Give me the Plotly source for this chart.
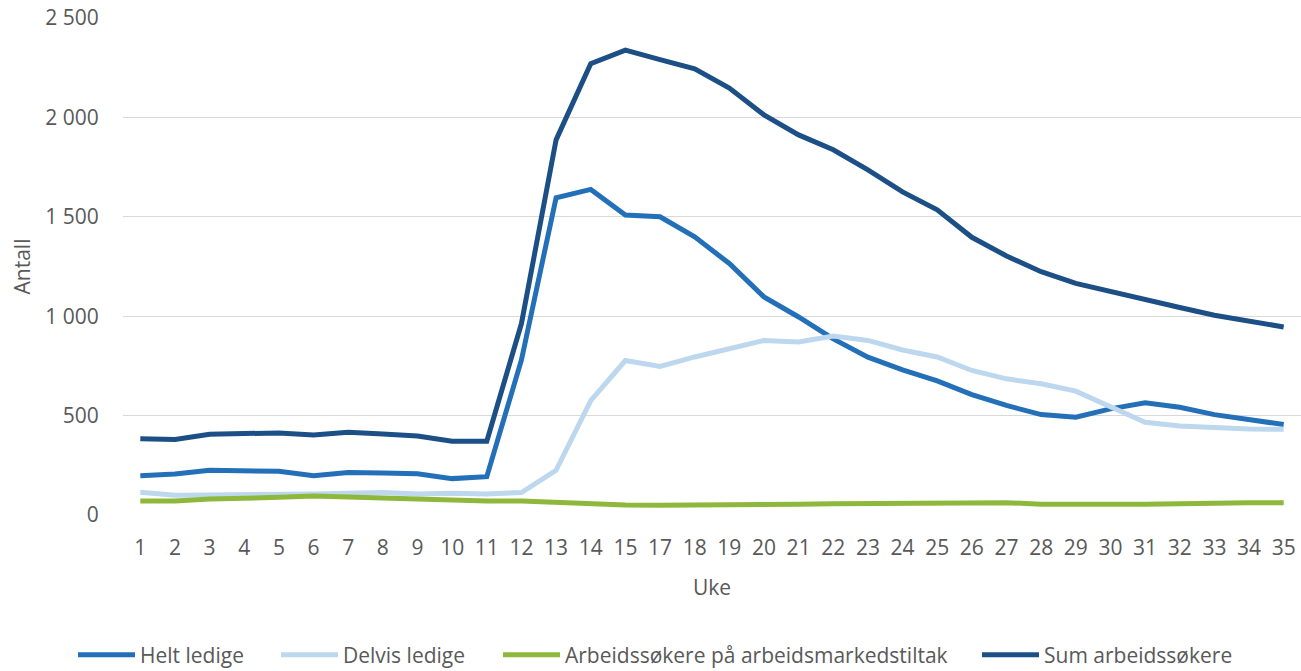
import plotly.graph_objects as go

weeks = [str(w) for w in list(range(1, 16)) + list(range(17, 36))]

helt_ledige = [197, 206, 225, 225, 220, 197, 214, 211, 207, 183, 193, 780,
               1596, 1638, 1509, 1500, 1399, 1265, 1097, 996, 886, 794, 730, 675,
               606, 551, 505, 492, 534, 564, 542, 505, 478, 455]
delvis_ledige = [115, 99, 101, 101, 101, 106, 110, 113, 106, 110, 106, 113,
                 225, 575, 777, 747, 795, 836, 878, 870, 900, 878, 830, 795,
                 727, 685, 660, 623, 545, 466, 448, 438, 433, 431]
tiltak = [70, 71, 80, 82, 89, 96, 91, 82, 82, 77, 70, 70,
          62, 57, 50, 49, 49, 49, 49, 54, 57, 57, 59, 62,
          62, 62, 54, 57, 54, 54, 54, 59, 61, 61]
sum_arbeidssokere = [383, 380, 406, 411, 413, 402, 416, 408, 397, 371, 371, 963,
                     1887, 2270, 2338, 2291, 2244, 2148, 2013, 1912, 1837, 1736, 1625, 1535,
                     1397, 1303, 1224, 1165, 1123, 1081, 1044, 1005, 975, 946]

series = [
    ("Helt ledige", helt_ledige, "#2370B8"),
    ("Delvis ledige", delvis_ledige, "#BDD7EE"),
    ("Arbeidssøkere på arbeidsmarkedstiltak", tiltak, "#8DB83B"),
    ("Sum arbeidssøkere", sum_arbeidssokere, "#1B4F86"),
]

# legend entry box left positions (pixels in the page) and plot geometry
legend_px = [73, 276, 498, 977]
plot_left, plot_w, plot_top, plot_h = 123, 1178, 18, 497
legend_center_y = 655

font_family = "Open Sans"
gray = "#595959"

fig = go.Figure()
layout_legends = {}
for i, (name, vals, color) in enumerate(series):
    key = "legend" if i == 0 else f"legend{i + 1}"
    fig.add_trace(go.Scatter(
        x=weeks, y=vals, name=name, mode="lines",
        line=dict(color=color, width=5),
        legend=key,
    ))
    layout_legends[key] = dict(
        orientation="h",
        x=(legend_px[i] - plot_left) / plot_w, xanchor="left",
        y=(plot_top + plot_h - legend_center_y) / plot_h, yanchor="middle",
        font=dict(family=font_family, size=21, color=gray),
        bgcolor="rgba(0,0,0,0)", borderwidth=0,
        itemwidth=57,
    )

fig.update_layout(
    width=1301, height=671,
    margin=dict(l=plot_left, r=1301 - plot_left - plot_w, t=plot_top,
                b=671 - plot_top - plot_h, autoexpand=False),
    plot_bgcolor="white", paper_bgcolor="white",
    font=dict(family=font_family, color=gray, size=21),
    separators=", ",
    showlegend=True,
    xaxis=dict(
        type="category", range=[-0.5, 33.5], automargin=False,
        showgrid=False, showline=False, zeroline=False,
        ticks="outside", ticklen=14, tickcolor="rgba(0,0,0,0)",
        tickfont=dict(size=21, color=gray),
        title=dict(text="Uke", font=dict(size=21, color=gray), standoff=20),
    ),
    yaxis=dict(
        range=[0, 2500], dtick=500, tick0=0, automargin=False,
        showgrid=True, gridcolor="#D9D9D9", gridwidth=1.3,
        zeroline=False, showline=False,
        separatethousands=True,
        ticks="outside", ticklen=19, tickcolor="rgba(0,0,0,0)",
        tickfont=dict(size=21, color=gray),
        title=dict(text="Antall", font=dict(size=21, color=gray), standoff=8),
    ),
    **layout_legends,
)

fig.write_html(
    "out.html",
    config={"displayModeBar": False},
    post_script="document.body.style.margin='0px';document.body.style.overflow='hidden';",
)
